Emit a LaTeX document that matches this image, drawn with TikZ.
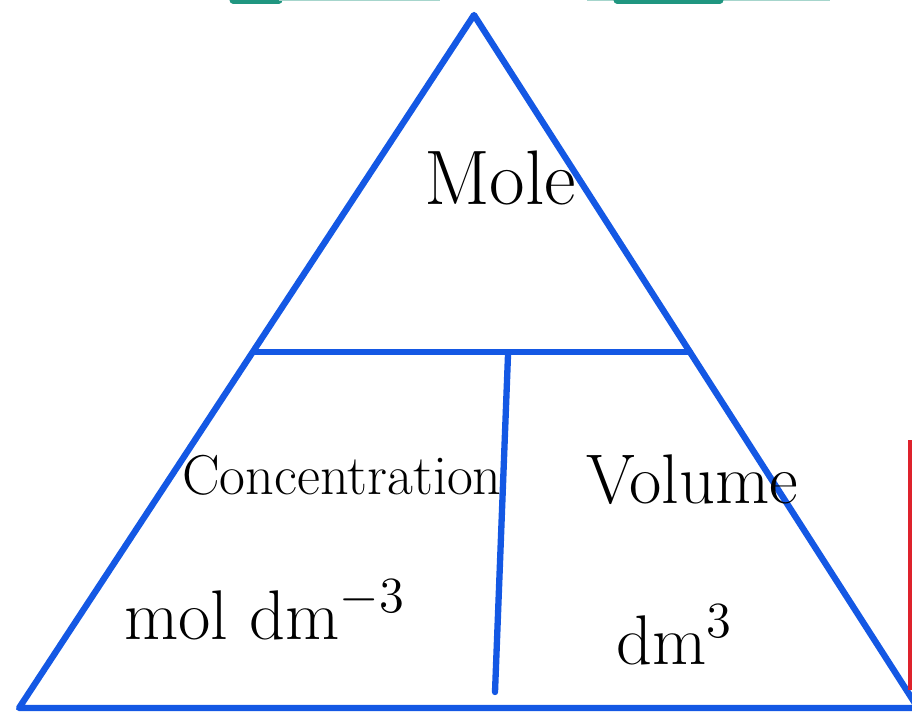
\documentclass[tikz,border=0pt]{standalone}
\usetikzlibrary{positioning}
\definecolor{triblue}{RGB}{20,88,228}
\definecolor{markred}{RGB}{222,34,44}
\definecolor{markteal}{RGB}{32,150,128}

\begin{document}
\begin{tikzpicture}[
    edge/.style={draw=triblue, line width=1.8pt, line cap=round},
    word/.style={inner sep=0pt, font=\fontsize{20}{24}\selectfont}]
	\useasboundingbox (0,0) rectangle (9.12,7.12);
	\clip (0,0) rectangle (9.12,7.12);
	% corners of the triangle
	\coordinate (apex) at (4.74,6.97);
	\coordinate (bl) at (0.19,0.04);
	\coordinate (br) at (9.18,0.04);
	\coordinate (ml) at (2.53,3.60);
	\coordinate (mr) at (6.90,3.60);
	\coordinate (vt) at (5.08,3.57);
	\coordinate (vb) at (4.95,0.20);
	\draw[edge, line join=round] (apex) -- (bl) -- (br) -- cycle;
	\draw[edge] (ml) -- (mr);
	\draw[edge] (vt) -- (vb);
	% labels
	\node[word, font=\fontsize{22}{26}\selectfont] (mole) at (5.00,5.34) {Mole};
	\node[word, font=\fontsize{16}{19}\selectfont] (conc) at (3.42,2.37) {Concentration};
	\node[word] (concunit) at (2.65,1.02) {mol dm$^{-3}$};
	\node[word] (vol) at (6.92,2.32) {Volume};
	\node[word] (volunit) at (6.75,0.77) {dm$^{3}$};
	% marks cut off at the edges
	\draw[markred, line width=0.9pt] (9.10,2.72) -- (9.10,0.22);
	\draw[markteal, line width=2pt, line cap=round] (2.33,7.12) -- (2.79,7.12);
	\draw[markteal!40, line width=0.6pt] (2.79,7.12) -- (4.40,7.12);
	\draw[markteal!40, line width=0.6pt] (5.87,7.12) -- (8.30,7.12);
	\draw[markteal, line width=2pt, line cap=round] (6.17,7.12) -- (7.20,7.12);
\end{tikzpicture}
\end{document}
